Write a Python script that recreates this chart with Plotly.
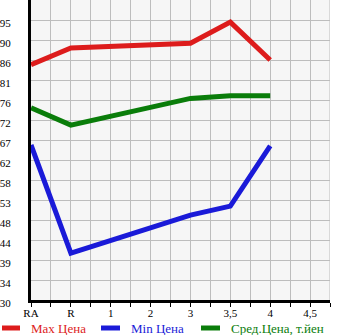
import plotly.graph_objects as go

categories = ["RA", "R", "1", "2", "3", "3,5", "4", "4,5"]
max_x = ["RA", "R", "3", "3,5", "4"]
max_vals = [84.6, 88.5, 89.6, 94.5, 85.7]
min_x = ["RA", "R", "3", "3,5", "4"]
min_vals = [66.0, 40.9, 49.7, 51.8, 65.8]
avg_x = ["RA", "R", "3", "3,5", "4"]
avg_vals = [74.6, 70.6, 76.8, 77.4, 77.4]
y_tick_labels = ["30", "34", "39", "44", "48", "53", "58", "62", "67", "72", "76", "81", "86", "90", "95"]
legend_names = ["Max Цена", "Min Цена", "Сред.Цена, т.йен"]

pos = {c: i for i, c in enumerate(categories)}
ymin, ymax = 30.0, 95.0
step = (ymax - ymin) / 14
yticks = [ymin + i * step for i in range(15)]

font_family = "Liberation Serif"
colors = ["#dd1c1c", "#1a1ad8", "#0a7d0a"]

W, H = 345, 335
ML, MR, MT, MB = 31, 15, 0, 35
PW, PH = W - ML - MR, H - MT - MB

def px_x(p):
    return (p - ML) / PW

def px_y(p):
    return (H - MB - p) / PH

fig = go.Figure()
series = [(max_x, max_vals), (min_x, min_vals), (avg_x, avg_vals)]
for (xs, ys), col, name in zip(series, colors, legend_names):
    fig.add_trace(go.Scatter(
        x=[pos[c] for c in xs], y=ys, mode="lines",
        line=dict(color=col, width=5), name=name, showlegend=False,
    ))

# manual legend
leg_y = px_y(328)
swatches = [(0, 21), (99, 121), (199, 221)]
for (a, b), col, name in zip(swatches, colors, legend_names):
    fig.add_shape(type="line", xref="paper", yref="paper",
                  x0=px_x(a + 2), x1=px_x(b - 1), y0=leg_y, y1=leg_y,
                  line=dict(color=col, width=5))
    fig.add_annotation(xref="paper", yref="paper", x=px_x(b + 8), y=leg_y,
                       xanchor="left", yanchor="middle", showarrow=False,
                       text=name, font=dict(family=font_family, size=13, color=col))

fig.update_layout(
    width=W, height=H,
    margin=dict(l=ML, r=MR, t=MT, b=MB, autoexpand=False),
    paper_bgcolor="white", plot_bgcolor="#f6f6f6",
    font=dict(family=font_family, size=12, color="black"),
    showlegend=False,
)
fig.update_xaxes(
    range=[0, 7.5], tickvals=list(range(8)), ticktext=categories,
    showgrid=True, gridcolor="#bdbdbd", gridwidth=1,
    ticks="outside", ticklen=4, tickcolor="black", tickwidth=1,
    minor=dict(dtick=0.5, tick0=0, showgrid=True, gridcolor="#bdbdbd", ticks="outside", ticklen=4, tickcolor="black"),
    showline=True, linecolor="black", linewidth=3,
    zeroline=False, tickfont=dict(size=11), ticklabelstandoff=-3,
)
fig.update_yaxes(
    range=[ymin, ymax + step], tickvals=yticks, ticktext=y_tick_labels,
    showgrid=True, gridcolor="#bdbdbd", gridwidth=1,
    ticks="", showline=True, linecolor="black", linewidth=3,
    zeroline=False, tickfont=dict(size=11), ticklabelshift=3, ticklabelstandoff=15,
)
fig.add_shape(type="line", xref="x", yref="paper", x0=7.5, x1=7.5, y0=0, y1=1,
              line=dict(color="#bdbdbd", width=1))

fig.write_html("out.html")
